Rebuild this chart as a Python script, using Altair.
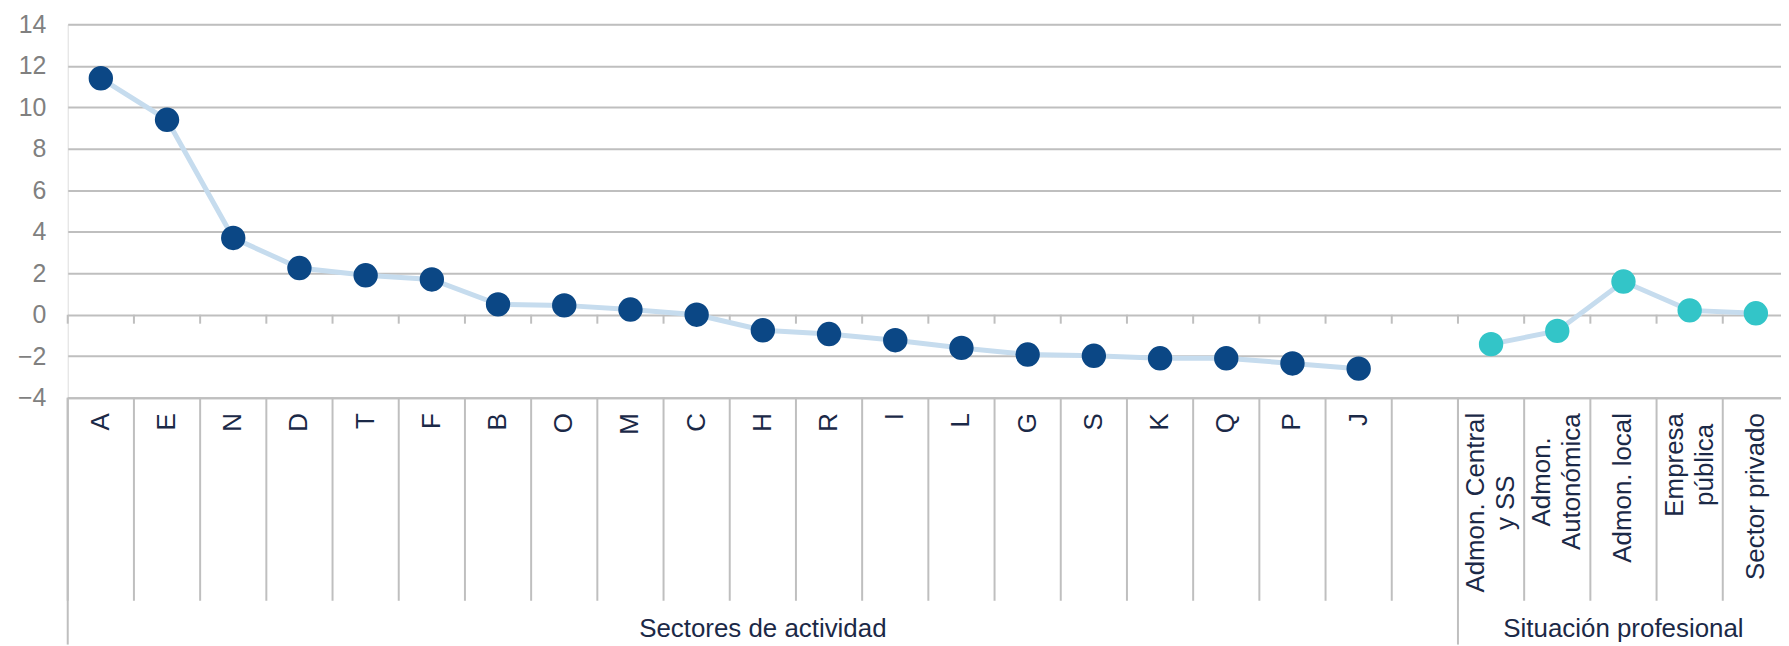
import altair as alt
import pandas as pd

sectores = ["A", "E", "N", "D", "T", "F", "B", "O", "M", "C",
            "H", "R", "I", "L", "G", "S", "K", "Q", "P", "J"]
sectores_val = [11.4, 9.4, 3.7, 2.25, 1.9, 1.7, 0.5, 0.45, 0.25, 0.0,
                -0.75, -0.93, -1.23, -1.6, -1.92, -1.98, -2.1, -2.1, -2.35, -2.6]
situacion = ["Admon. Central|y SS", "Admon.|Autonómica", "Admon. local",
             "Empresa|pública", "Sector privado"]
situacion_val = [-1.42, -0.78, 1.6, 0.21, 0.07]
gap = [" "]
groups = ["Sectores de actividad", "Situación profesional"]
group_centers = ["H", "Admon. local"]
group_starts = ["A", "Admon. Central|y SS"]
y_ticks = [-4, -2, 0, 2, 4, 6, 8, 10, 12, 14]

domain = sectores + gap + situacion

points = pd.DataFrame({
    "cat": sectores + situacion,
    "value": sectores_val + situacion_val,
    "grp": [groups[0]] * len(sectores) + [groups[1]] * len(situacion),
})
bounds = pd.DataFrame({"cat": domain})
starts = pd.DataFrame({"cat": group_starts})
glabels = pd.DataFrame({"cat": group_centers, "grp": groups})

FONT = "Liberation Sans"
GRID = "#bfbfbf"
NAVY_TEXT = "#1b2947"

multi = "indexof(datum.label, '|') >= 0"
xscale = alt.Scale(type="band", domain=domain, range=[0, 1729],
                   paddingInner=0, paddingOuter=0)
xaxis = alt.Axis(title=None, labelAngle=-90, labelBaseline="middle",
                 labelAlign={"condition": {"test": multi, "value": "center"}, "value": "right"},
                 labelPadding={"condition": [
                     {"test": "datum.label == 'Admon. Central|y SS'", "value": 105},
                     {"test": "datum.label == 'Admon.|Autonómica'", "value": 84},
                     {"test": "datum.label == 'Empresa|pública'", "value": 67}],
                     "value": 15},
                 ticks=False, domain=True, domainColor=GRID,
                 domainWidth=2, labelFontSize=26, labelColor=NAVY_TEXT, labelFont=FONT,
                 labelExpr="split(datum.label, '|')", labelLineHeight=30,
                 labelOffset={"condition": {"test": multi, "value": -15}, "value": 0},
                 labelLimit=0, labelOverlap=False, grid=False)
yscale = alt.Scale(domain=[-4, 14], nice=False, zero=False)
yaxis = alt.Axis(values=y_ticks, title=None, grid=True, gridColor=GRID, gridWidth=2,
                 ticks=False, domain=False, labelFontSize=25, labelColor="#808080",
                 labelPadding=22, labelFont=FONT)

X = alt.X("cat:N", scale=xscale, axis=xaxis, sort=domain)
Xb = alt.X("cat:N", scale=xscale, axis=xaxis, sort=domain, bandPosition=0)
Y = alt.Y("value:Q", scale=yscale, axis=yaxis)

line = alt.Chart(points).mark_line(color="#c6dcee", strokeWidth=5).encode(
    x=X, y=Y, detail="grp:N")

dots = alt.Chart(points).mark_circle(size=600, opacity=1).encode(
    x=X, y=Y,
    color=alt.Color("grp:N", scale=alt.Scale(domain=groups, range=["#0b4785", "#33c5c8"]),
                    legend=None))

zero_ticks = alt.Chart(bounds).mark_rule(color=GRID, strokeWidth=2, y2Offset=9).encode(
    x=Xb, y=alt.datum(0, scale=yscale, axis=yaxis), y2=alt.datum(0))

seps = alt.Chart(bounds).mark_rule(color=GRID, strokeWidth=2).encode(
    x=Xb, y=alt.value(375), y2=alt.value(579))

long_seps = alt.Chart(starts).mark_rule(color=GRID, strokeWidth=2).encode(
    x=Xb, y=alt.value(375), y2=alt.value(623))

group_text = alt.Chart(glabels).mark_text(fontSize=26, color=NAVY_TEXT, font=FONT,
                                          baseline="middle", align="center").encode(
    x=X, y=alt.value(607), text="grp:N")

chart = alt.layer(zero_ticks, seps, long_seps, line, dots, group_text).properties(
    width=1721, height=375,
    autosize=alt.AutoSizeParams(type="none"),
    padding={"left": 60, "top": 15, "right": 0, "bottom": 248},
).configure_view(stroke=None).configure(font=FONT)

chart.save("out.html", embed_options={"renderer": "svg", "actions": False})
